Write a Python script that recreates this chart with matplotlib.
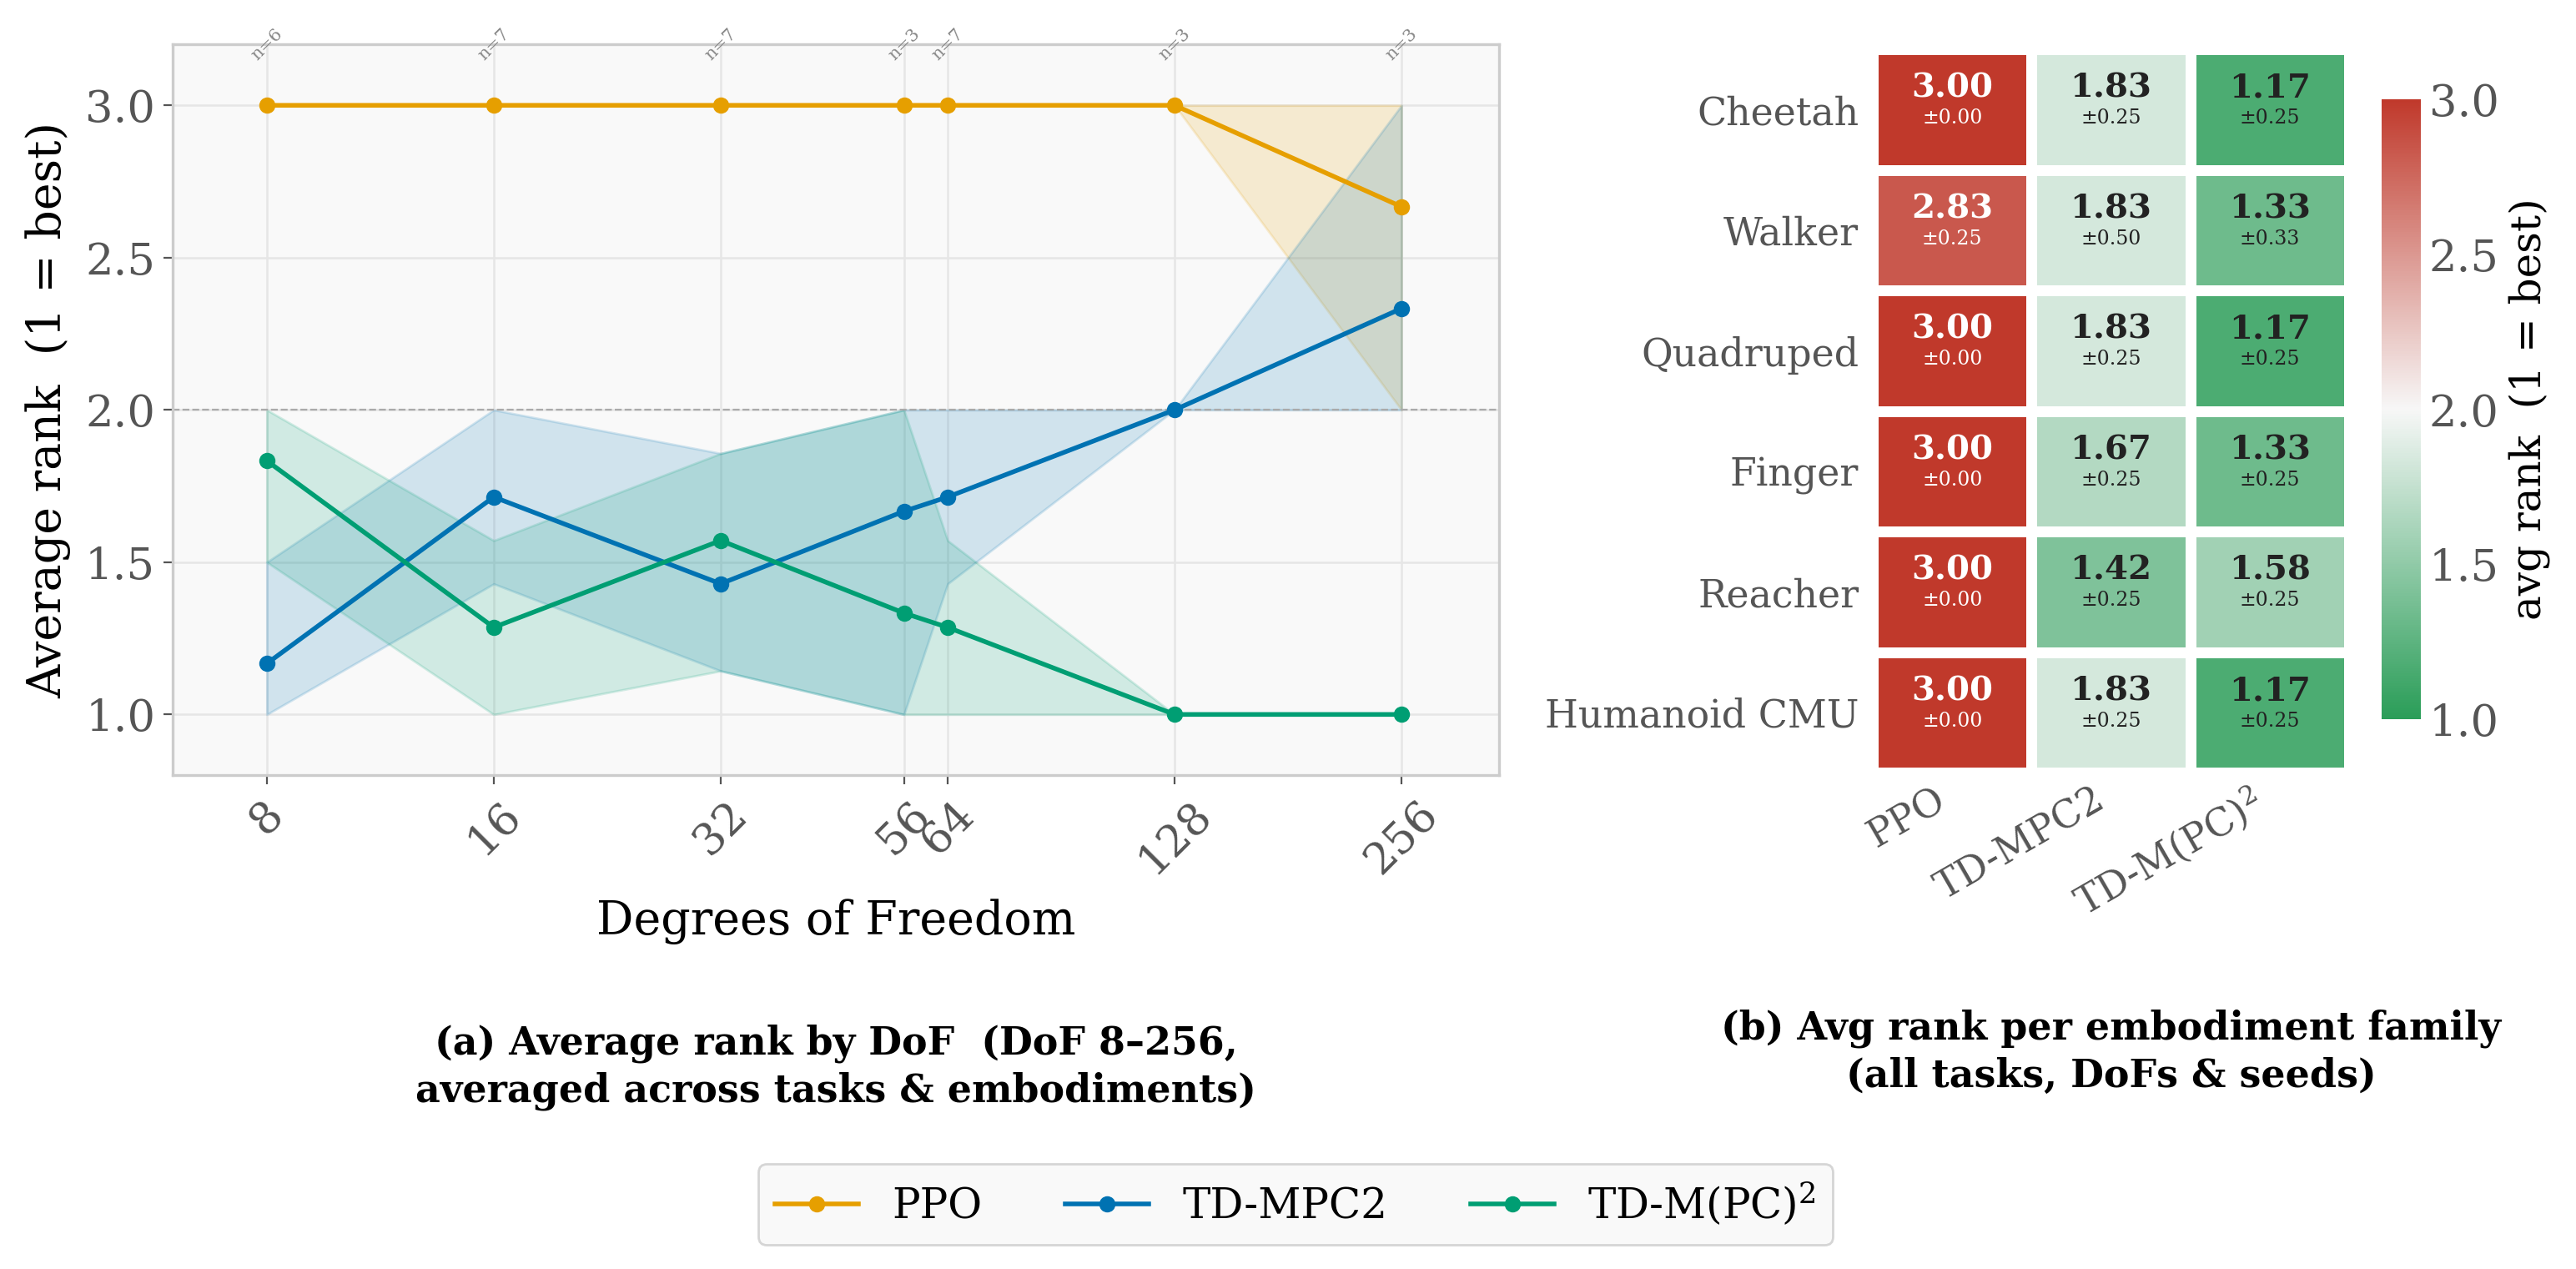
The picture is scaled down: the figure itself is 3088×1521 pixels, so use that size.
import matplotlib
matplotlib.use("Agg")
import matplotlib.pyplot as plt
import numpy as np
from matplotlib.colors import LinearSegmentedColormap

plt.rcParams['font.family'] = 'DejaVu Serif'
plt.rcParams['mathtext.fontset'] = 'dejavuserif'

# ---- panel (a) data: average rank vs DoF ----
dof = [8, 16, 32, 56, 64, 128, 256]
n_cfg = [6, 7, 7, 3, 7, 3, 3]

ppo_mean = [3.0, 3.0, 3.0, 3.0, 3.0, 3.0, 2.667]
ppo_lo = [3.0, 3.0, 3.0, 3.0, 3.0, 3.0, 2.0]
ppo_hi = [3.0, 3.0, 3.0, 3.0, 3.0, 3.0, 3.0]

mpc_mean = [1.167, 1.714, 1.429, 1.667, 1.714, 2.0, 2.333]
mpc_lo = [1.0, 1.429, 1.143, 1.0, 1.429, 2.0, 2.0]
mpc_hi = [1.5, 2.0, 1.857, 2.0, 2.0, 2.0, 3.0]

pc2_mean = [1.833, 1.286, 1.571, 1.333, 1.286, 1.0, 1.0]
pc2_lo = [1.5, 1.0, 1.143, 1.0, 1.0, 1.0, 1.0]
pc2_hi = [2.0, 1.571, 1.857, 2.0, 1.571, 1.0, 1.0]

methods = ['PPO', 'TD-MPC2', 'TD-M(PC)$^2$']
colors = ['#E69F00', '#0072B2', '#009E73']

# ---- panel (b) data: avg rank per embodiment family ----
families = ['Cheetah', 'Walker', 'Quadruped', 'Finger', 'Reacher', 'Humanoid CMU']
rank_ppo = [3.00, 2.83, 3.00, 3.00, 3.00, 3.00]
rank_mpc = [1.83, 1.83, 1.83, 1.67, 1.42, 1.83]
rank_pc2 = [1.17, 1.33, 1.17, 1.33, 1.58, 1.17]
std_ppo = [0.00, 0.25, 0.00, 0.00, 0.00, 0.00]
std_mpc = [0.25, 0.50, 0.25, 0.25, 0.25, 0.25]
std_pc2 = [0.25, 0.33, 0.25, 0.25, 0.25, 0.25]

fig = plt.figure(figsize=(15.44, 7.605), dpi=200)

# ---------------- (a) ----------------
ax = fig.add_axes([0.067, 0.389, 0.515, 0.576])
ax.set_facecolor('#f9f9f9')
series = [(ppo_mean, ppo_lo, ppo_hi), (mpc_mean, mpc_lo, mpc_hi), (pc2_mean, pc2_lo, pc2_hi)]
for (m, lo, hi), c, name in zip(series, colors, methods):
    ax.fill_between(dof, lo, hi, color=c, alpha=0.16, linewidth=1)
    ax.plot(dof, m, '-o', color=c, lw=2, ms=6, label=name, zorder=3)

ax.axhline(2.0, color='#aaaaaa', ls='--', lw=0.8, zorder=1)
ax.set_xscale('log', base=2)
ax.set_xlim(6.0, 345)
ax.set_ylim(0.8, 3.2)
ax.set_xticks(dof)
ax.set_xticklabels([str(d) for d in dof], rotation=45, ha='center')
ax.minorticks_off()
ax.set_yticks([1.0, 1.5, 2.0, 2.5, 3.0])
ax.grid(True, color='#e6e6e6', lw=0.9, zorder=0)
ax.set_axisbelow(True)
for s in ax.spines.values():
    s.set_color('#cccccc')
    s.set_linewidth(1.2)
ax.tick_params(labelsize=19, colors='#555555', length=4)
ax.set_xlabel('Degrees of Freedom', fontsize=20, labelpad=7)
ax.set_ylabel('Average rank  (1 = best)', fontsize=20, labelpad=6)
for d, n in zip(dof, n_cfg):
    ax.text(d, 3.2, f'n={n}', rotation=45, ha='center', va='center',
            fontsize=7.5, color='#888888', clip_on=False)

fig.text(0.3245, 0.159, '(a) Average rank by DoF  (DoF 8\u2013256,\naveraged across tasks & embodiments)',
         ha='center', va='center', fontsize=16.5, fontweight='bold', linespacing=1.3)

# ---------------- (b) ----------------
hax = fig.add_axes([0.727, 0.391, 0.185, 0.570])
cmap = LinearSegmentedColormap.from_list('gwr', ['#2a9d58', '#f7f7f7', '#c0392b'])
grid = np.array([rank_ppo, rank_mpc, rank_pc2]).T
stds = np.array([std_ppo, std_mpc, std_pc2]).T
mesh = hax.pcolormesh(grid, cmap=cmap, vmin=1.0, vmax=3.0, edgecolors='white', linewidth=4)
hax.set_xlim(0, 3)
hax.set_ylim(6, 0)
for i in range(len(families)):
    for j in range(3):
        v = grid[i, j]
        tc = 'white' if v > 2.5 else '#222222'
        hax.text(j + 0.5, i + 0.32, f'{v:.2f}', ha='center', va='center',
                 fontsize=14.5, fontweight='bold', color=tc)
        hax.text(j + 0.5, i + 0.57, f'\u00b1{stds[i, j]:.2f}', ha='center', va='center',
                 fontsize=8.5, color=tc)
hax.set_xticks(np.arange(3) + 0.5)
hax.set_xticklabels(methods, rotation=30, ha='right')
hax.set_yticks(np.arange(6) + 0.5)
hax.set_yticklabels(families)
hax.tick_params(length=0, labelsize=16.5, colors='#555555')
hax.tick_params(axis='y', pad=6)
for s in hax.spines.values():
    s.set_visible(False)

cax = fig.add_axes([0.9245, 0.433, 0.0153, 0.489])
cb = fig.colorbar(mesh, cax=cax)
cb.outline.set_visible(False)
cb.set_ticks([1.0, 1.5, 2.0, 2.5, 3.0])
cb.ax.tick_params(length=0, labelsize=19, colors='#555555')
cb.set_label('avg rank  (1 = best)', fontsize=18)

fig.text(0.8195, 0.171, '(b) Avg rank per embodiment family\n(all tasks, DoFs & seeds)',
         ha='center', va='center', fontsize=16.5, fontweight='bold', linespacing=1.3)

# ---------------- legend ----------------
handles, labels = ax.get_legend_handles_labels()
leg = fig.legend(handles, labels, loc='center', bbox_to_anchor=(0.503, 0.051), ncol=3,
                 fontsize=18, frameon=True, columnspacing=2.0, handlelength=2.0)
leg.get_frame().set_facecolor('#f8f8f8')
leg.get_frame().set_edgecolor('#cccccc')

fig.savefig('out.png', dpi=200)
